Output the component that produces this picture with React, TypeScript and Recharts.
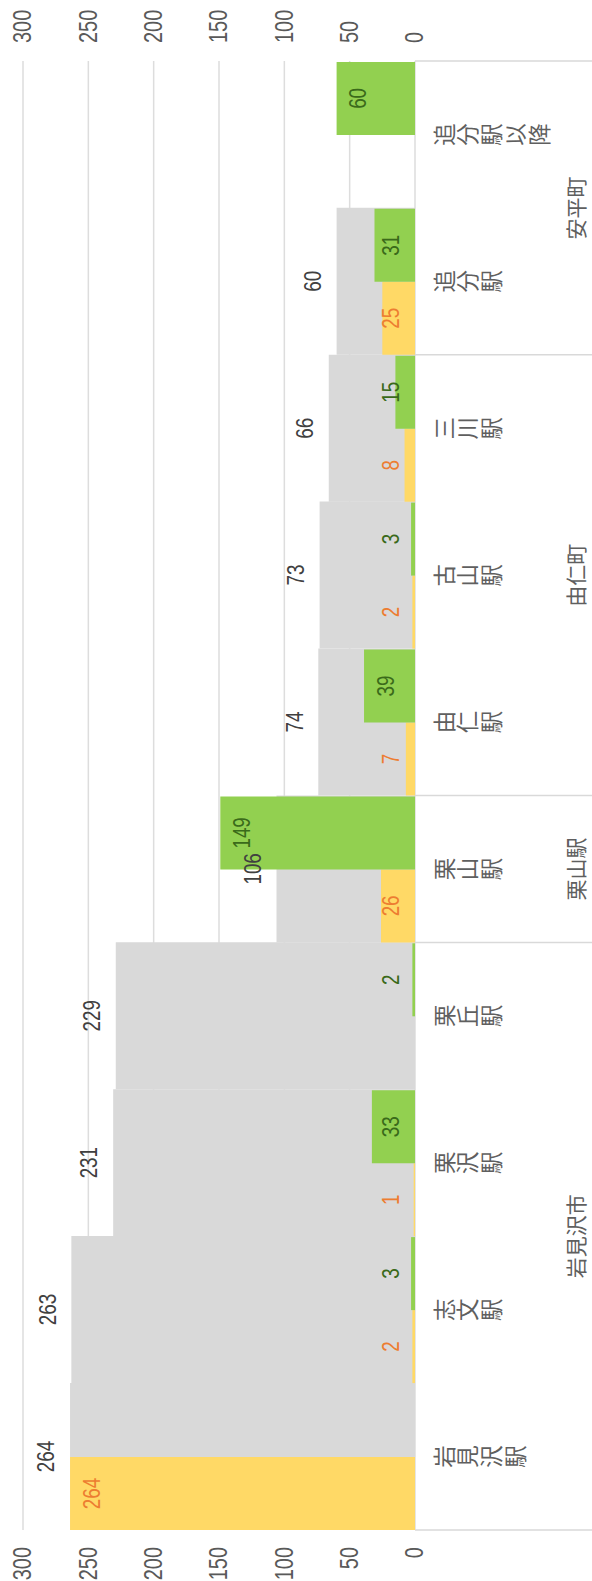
import { BarChart, Bar, XAxis, YAxis, CartesianGrid, LabelList } from 'recharts';

const STATIONS = ['岩見沢駅', '志文駅', '栗沢駅', '栗丘駅', '栗山駅', '由仁駅', '古山駅', '三川駅', '追分駅', '追分駅以降'];
const GROUPS = ['岩見沢市', '岩見沢市', '岩見沢市', '岩見沢市', '栗山駅', '由仁町', '由仁町', '由仁町', '安平町', '安平町'];
const BOARDING = [264, 2, 1, null, 26, 7, 2, 8, 25, null];
const ALIGHTING = [null, 3, 33, 2, 149, 39, 3, 15, 31, 60];
const ONBOARD = [264, 263, 231, 229, 106, 74, 73, 66, 60, null];
const VALUE_TICKS = [0, 50, 100, 150, 200, 250, 300];

// chart is drawn in landscape and rotated -90deg into the portrait page
const W = 1581;
const H = 592;
const LEFT_W = 51;
const RIGHT_W = 61;
const AXIS_H = 177;
const BASE_Y = H - AXIS_H;
const BAND = (W - LEFT_W - RIGHT_W) / STATIONS.length;

const NUM_FONT = "'Liberation Sans', Arial, sans-serif";
const JP_FONT = "'Noto Sans CJK JP', sans-serif";

const data = STATIONS.map((name, i) => ({
  name,
  board: BOARDING[i],
  alight: ALIGHTING[i],
  onboard: ONBOARD[i],
}));

// the reference uses a narrow face, so squeeze the digits horizontally
function NarrowText({ x, y, anchor = 'middle', size, fill, children }: any) {
  return (
    <text transform={`translate(${x},${y}) scale(0.8,1)`} x={0} y={0} textAnchor={anchor}
      dominantBaseline="central" fontSize={size} fill={fill} fontFamily={NUM_FONT}>{children}</text>
  );
}

function StationTick(props: any) {
  const { x, payload } = props;
  const i = STATIONS.indexOf(payload.value);
  const group = GROUPS[i];
  const left = x - BAND / 2;
  const first = i === 0 || GROUPS[i - 1] !== group;
  let size = 0;
  for (let j = i; j < GROUPS.length && GROUPS[j] === group; j++) size++;
  return (
    <g>
      {Array.from(payload.value as string).map((c, k) => (
        <text key={k} x={x} y={BASE_Y + 27.5 + k * 23.8} textAnchor="middle" dominantBaseline="central"
          fontSize={22.5} fill="#5f5f5f" fontFamily={JP_FONT}>{c}</text>
      ))}
      {first && <line x1={left} x2={left} y1={BASE_Y} y2={H} stroke="#D9D9D9" strokeWidth={1.5} />}
      {i === STATIONS.length - 1 && (
        <line x1={x + BAND / 2} x2={x + BAND / 2} y1={BASE_Y} y2={H} stroke="#D9D9D9" strokeWidth={1.5} />
      )}
      {first && (
        <text x={left + (size * BAND) / 2} y={BASE_Y + 160} textAnchor="middle" dominantBaseline="central"
          fontSize={21} fill="#5f5f5f" fontFamily={JP_FONT}>{group}</text>
      )}
    </g>
  );
}

const LeftTick = (props: any) => (
  <NarrowText x={LEFT_W - 17} y={props.y} anchor="end" size={25} fill="#595959">{props.payload.value}</NarrowText>
);
const RightTick = (props: any) => (
  <NarrowText x={W - RIGHT_W + 18} y={props.y} anchor="start" size={25} fill="#595959">{props.payload.value}</NarrowText>
);

// labels sit inside the bar near its end, but never closer than ~23px to the baseline
const insideLabel = (color: string) => (props: any) => {
  const { x, y, width, height, value } = props;
  if (value == null) return null;
  const cy = Math.min(y + 22, y + height - 23.5);
  return <NarrowText x={x + width / 2} y={cy} size={23.5} fill={color}>{value}</NarrowText>;
};

const onboardLabel = (props: any) => {
  const { x, y, width, value } = props;
  if (value == null) return null;
  return <NarrowText x={x + width / 2} y={y - 23.5} size={23.5} fill="#404040">{value}</NarrowText>;
};

export default function App() {
  return (
    <div style={{ position: 'absolute', left: 0, top: 0, width: H, height: W, overflow: 'hidden', background: '#fff' }}>
      <div style={{ width: W, height: H, transformOrigin: '0 0', transform: `translateY(${W}px) rotate(-90deg)` }}>
        <BarChart width={W} height={H} data={data} barCategoryGap={0} barGap={0}
          margin={{ top: 23, right: 0, bottom: 0, left: 0 }}>
          <CartesianGrid xAxisId="main" yAxisId="left" vertical={false} stroke="#DDDDDD" strokeWidth={1.5} />
          <XAxis xAxisId="main" dataKey="name" interval={0} height={AXIS_H} tickSize={0} tickMargin={0}
            axisLine={false} tickLine={false} tick={<StationTick />} />
          <XAxis xAxisId="bg" dataKey="name" hide />
          <XAxis xAxisId="lbl" dataKey="name" hide />
          <YAxis yAxisId="left" orientation="left" width={LEFT_W} domain={[0, 300]} ticks={VALUE_TICKS}
            allowDataOverflow axisLine={false} tickLine={false} tickSize={0} tick={<LeftTick />} />
          <YAxis yAxisId="right" orientation="right" width={RIGHT_W} domain={[0, 300]} ticks={VALUE_TICKS}
            allowDataOverflow axisLine={false} tickLine={false} tickSize={0} tick={<RightTick />} />
          <Bar xAxisId="bg" yAxisId="left" dataKey="onboard" fill="#D9D9D9" isAnimationActive={false} />
          <Bar xAxisId="main" yAxisId="left" dataKey="board" fill="#FFD966" isAnimationActive={false}>
            <LabelList dataKey="board" content={insideLabel('#ED7D31')} />
          </Bar>
          <Bar xAxisId="main" yAxisId="left" dataKey="alight" fill="#92D050" isAnimationActive={false}>
            <LabelList dataKey="alight" content={insideLabel('#3A6A1A')} />
          </Bar>
          <Bar xAxisId="lbl" yAxisId="right" dataKey="onboard" fill="none" isAnimationActive={false}>
            <LabelList dataKey="onboard" content={onboardLabel} />
          </Bar>
        </BarChart>
      </div>
    </div>
  );
}
